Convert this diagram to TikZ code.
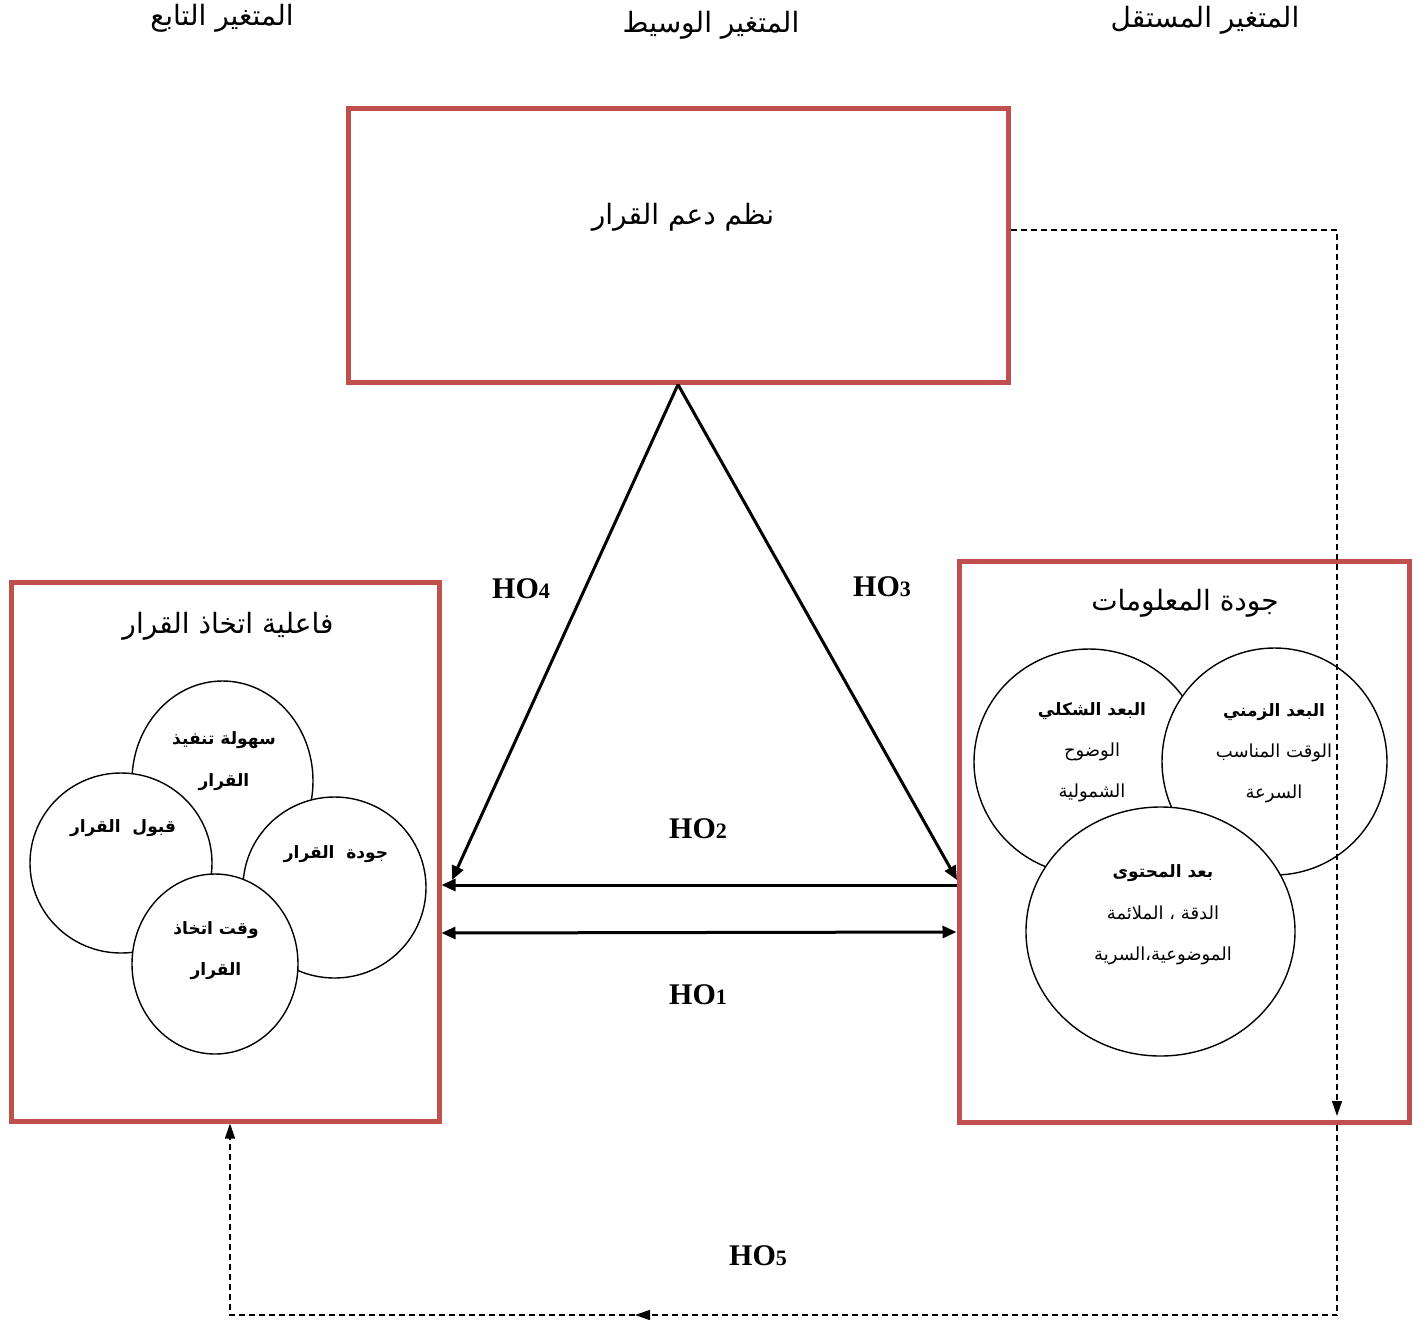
\documentclass[tikz,border=0pt]{standalone}
\usepackage{fontspec}
\setmainfont{Liberation Serif}
\newfontfamily\arabicfont[Script=Arabic]{DejaVu Sans}
\TeXXeTstate=1
\usetikzlibrary{arrows.meta,shapes.geometric}
\definecolor{boxred}{HTML}{C0504D}
\newcommand{\artxt}[1]{{\arabicfont\beginR #1\endR}}
\newcommand{\hnum}[1]{HO{\fontsize{11}{12}\selectfont #1}}

\begin{document}
\begin{tikzpicture}[x=0.5pt,y=-0.5pt,
	redbox/.style={draw=boxred,line width=2.5pt,inner sep=0pt},
	ring/.style={draw,ellipse,fill=white,line width=0.7pt,inner sep=0pt},
	head/.style={font=\fontsize{14}{16}\selectfont},
	dimtxt/.style={font=\fontsize{9}{11}\selectfont},
	dimhead/.style={font=\fontsize{8.5}{10}\selectfont\bfseries},
	hyp/.style={font=\fontsize{15}{17}\selectfont\bfseries},
	link/.style={line width=1.5pt,-{Triangle[length=7pt,width=6pt]}},
	dashlink/.style={line width=0.7pt,dash pattern=on 3pt off 2pt,-{Triangle[length=7.5pt,width=5pt]}}]
	\useasboundingbox (0,0) rectangle (1426,1319);
	
	% titles
	\node[head] (tdep) at (222,18) {\artxt{المتغير التابع}};
	\node[head] (tmed) at (711,25) {\artxt{المتغير الوسيط}};
	\node[head] (tind) at (1205,20) {\artxt{المتغير المستقل}};
	
	% boxes
	\node[redbox,minimum width=330pt,minimum height=137pt] (dss) at (678,245) {};
	\node[redbox,minimum width=214pt,minimum height=269.5pt] (ded) at (225,851.5) {};
	\node[redbox,minimum width=225pt,minimum height=280.5pt] (iq) at (1184,841.5) {};
	
	\node[head] (dsst) at (683,217) {\artxt{نظم دعم القرار}};
	\node[head] (dedt) at (228,626) {\artxt{فاعلية اتخاذ القرار}};
	\node[head] (iqt) at (1185,603) {\artxt{جودة المعلومات}};
	
	% information quality
	\node[ring,minimum width=115pt,minimum height=113pt] (form) at (1089,762) {};
	\node[ring,minimum width=112.5pt,minimum height=113.5pt] (time) at (1274.5,761.5) {};
	\node[ring,minimum width=134.5pt,minimum height=124.5pt] (cont) at (1160.5,931.5) {};
	
	\node[dimhead] (form1) at (1092,711) {\artxt{البعد الشكلي}};
	\node[dimtxt] (form2) at (1092,752) {\artxt{الوضوح}};
	\node[dimtxt] (form3) at (1092,793) {\artxt{الشمولية}};
	\node[dimhead] (time1) at (1274,712) {\artxt{البعد الزمني}};
	\node[dimtxt] (time2) at (1274,753) {\artxt{الوقت المناسب}};
	\node[dimtxt] (time3) at (1274,794) {\artxt{السرعة}};
	\node[dimhead] (cont1) at (1163,873) {\artxt{بعد المحتوى}};
	\node[dimtxt] (cont2) at (1163,913) {\artxt{الدقة ، الملائمة}};
	\node[dimtxt] (cont3) at (1163,956) {\artxt{الموضوعية،السرية}};
	
	% decision effectiveness
	\node[ring,minimum width=90.5pt,minimum height=100pt] (ease) at (222.5,781) {};
	\node[ring,minimum width=91pt,minimum height=90pt] (accept) at (121,863) {};
	\node[ring,minimum width=91.5pt,minimum height=90.5pt] (qual) at (334.5,887.5) {};
	\node[ring,minimum width=83pt,minimum height=90pt] (speed) at (215,964) {};
	
	\node[dimhead] (ease1) at (224,740) {\artxt{سهولة تنفيذ}};
	\node[dimhead] (ease2) at (224,782) {\artxt{القرار}};
	\node[dimhead] (accept1) at (123,828) {\artxt{قبول\ \ القرار}};
	\node[dimhead] (qual1) at (336,854) {\artxt{جودة\ \ القرار}};
	\node[dimhead] (speed1) at (216,930) {\artxt{وقت اتخاذ}};
	\node[dimhead] (speed2) at (216,971) {\artxt{القرار}};
	
	% hypotheses
	\coordinate (e4) at (452,880);
	\coordinate (e3) at (957,880);
	\draw[link] (dss.south) -- (e4);
	\draw[link] (dss.south) -- (e3);
	\draw[link] (iq.west |- 0,885) -- (ded.east |- 0,885);
	\draw[link,{Triangle[length=7pt,width=6pt]}-{Triangle[length=7pt,width=6pt]}] (ded.east |- 0,933) -- (iq.west |- 0,932);
	
	\coordinate (ia) at (1337,1116);
	\coordinate (h5) at (635,1315);
	\draw[dashlink] (dss.east |- 0,230) -| (ia);
	\draw[dashlink] (iq.south -| 1337,0) |- (h5);
	\draw[dashlink] (h5) -| (ded.south -| 230,0);
	
	\node[hyp] (ho4) at (521,589) {\hnum{4}};
	\node[hyp] (ho3) at (882,587) {\hnum{3}};
	\node[hyp] (ho2) at (698,829) {\hnum{2}};
	\node[hyp] (ho1) at (698,995) {\hnum{1}};
	\node[hyp] (ho5) at (758,1256) {\hnum{5}};
\end{tikzpicture}
\end{document}
